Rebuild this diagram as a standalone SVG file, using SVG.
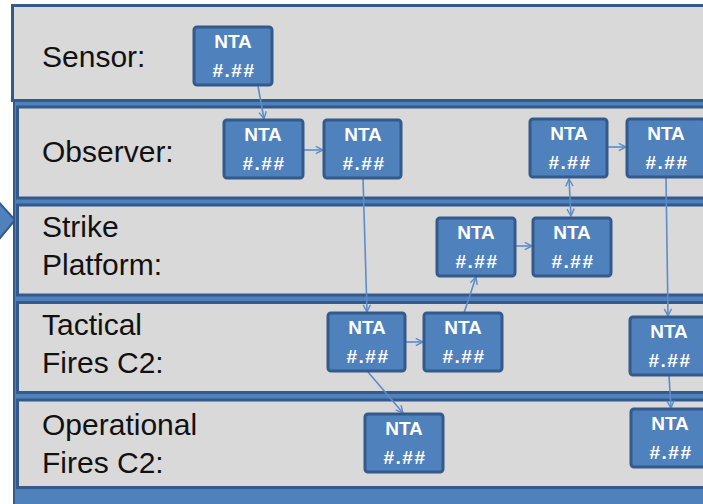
<svg xmlns="http://www.w3.org/2000/svg" width="703" height="504" viewBox="0 0 703 504">
<style>
.lane{fill:#d9d9d9;stroke:#345a8c;stroke-width:3}
.lbl{font-family:"Liberation Sans",Arial,sans-serif;font-size:30px;fill:#111}
.box{fill:#4f81bd;stroke:#345a8c;stroke-width:3}
.nt{font-family:"Liberation Sans",Arial,sans-serif;font-size:19px;font-weight:bold;fill:#fff;text-anchor:middle}
.nh{letter-spacing:1.5px}
.con{stroke:#5d8cc6;stroke-width:1.6;fill:none}
</style>
<defs>
<marker id="ah" viewBox="0 0 10 10" refX="9" refY="5" markerWidth="9" markerHeight="9" markerUnits="userSpaceOnUse" orient="auto-start-reverse">
<path d="M1,1 L9,5 L1,9" fill="none" stroke="#5d8cc6" stroke-width="1.6"/>
</marker>
</defs>
<rect x="0" y="0" width="703" height="504" fill="#ffffff"/>
<polygon points="-4,199 15,220 -4,243" fill="#4f81bd" stroke="#345a8c" stroke-width="2"/>
<g id="lanes">
<rect class="lane" x="12.5" y="5.5" width="710" height="95"/>
<rect x="14" y="101" width="710" height="410" fill="#4f81bd" stroke="#345a8c" stroke-width="2"/>
<rect class="lane" x="17.5" y="107" width="710" height="91"/>
<rect class="lane" x="17.5" y="205" width="710" height="90"/>
<rect class="lane" x="17.5" y="302.5" width="710" height="90"/>
<rect class="lane" x="17.5" y="400" width="710" height="87.5"/>
<text class="lbl" x="42" y="67">Sensor:</text>
<text class="lbl" x="42" y="162">Observer:</text>
<text class="lbl" x="42" y="237">Strike</text>
<text class="lbl" x="42" y="275">Platform:</text>
<text class="lbl" x="42" y="335">Tactical</text>
<text class="lbl" x="42" y="373">Fires C2:</text>
<text class="lbl" x="42" y="435">Operational</text>
<text class="lbl" x="42" y="473">Fires C2:</text>
</g>
<g id="connectors">
<line class="con" x1="258" y1="86" x2="264" y2="119" marker-end="url(#ah)"/>
<line class="con" x1="304" y1="150" x2="323" y2="150" marker-end="url(#ah)"/>
<line class="con" x1="363" y1="178" x2="367" y2="312" marker-end="url(#ah)"/>
<line class="con" x1="405" y1="342" x2="423" y2="342" marker-end="url(#ah)"/>
<line class="con" x1="464" y1="313" x2="476" y2="277" marker-end="url(#ah)"/>
<line class="con" x1="515" y1="246" x2="532" y2="246" marker-end="url(#ah)"/>
<line class="con" x1="569" y1="179" x2="571" y2="216" marker-start="url(#ah)" marker-end="url(#ah)"/>
<line class="con" x1="607" y1="147" x2="626" y2="147" marker-end="url(#ah)"/>
<line class="con" x1="666" y1="177" x2="668" y2="316" marker-end="url(#ah)"/>
<line class="con" x1="669" y1="376" x2="671" y2="408" marker-end="url(#ah)"/>
<line class="con" x1="368" y1="372" x2="403" y2="413" marker-end="url(#ah)"/>
</g>
<g id="n1"><rect class="box" x="194" y="27" width="78" height="58" rx="3"/><text class="nt" x="233" y="48">NTA</text><text class="nt nh" x="234" y="77">#.##</text></g>
<g id="n2"><rect class="box" x="224" y="120" width="79" height="58" rx="3"/><text class="nt" x="263" y="141">NTA</text><text class="nt nh" x="264" y="170">#.##</text></g>
<g id="n3"><rect class="box" x="324" y="120" width="77" height="58" rx="3"/><text class="nt" x="363" y="141">NTA</text><text class="nt nh" x="364" y="170">#.##</text></g>
<g id="n4"><rect class="box" x="530" y="119" width="77" height="58" rx="3"/><text class="nt" x="569" y="140">NTA</text><text class="nt nh" x="570" y="169">#.##</text></g>
<g id="n5"><rect class="box" x="627" y="119" width="78" height="58" rx="3"/><text class="nt" x="666" y="140">NTA</text><text class="nt nh" x="667" y="169">#.##</text></g>
<g id="n6"><rect class="box" x="437" y="218" width="78" height="58" rx="3"/><text class="nt" x="476" y="239">NTA</text><text class="nt nh" x="477" y="268">#.##</text></g>
<g id="n7"><rect class="box" x="533" y="218" width="78" height="58" rx="3"/><text class="nt" x="572" y="239">NTA</text><text class="nt nh" x="573" y="268">#.##</text></g>
<g id="n8"><rect class="box" x="328" y="313" width="77" height="58" rx="3"/><text class="nt" x="367" y="334">NTA</text><text class="nt nh" x="368" y="363">#.##</text></g>
<g id="n9"><rect class="box" x="424" y="313" width="78" height="58" rx="3"/><text class="nt" x="463" y="334">NTA</text><text class="nt nh" x="464" y="363">#.##</text></g>
<g id="n10"><rect class="box" x="630" y="317" width="78" height="58" rx="3"/><text class="nt" x="669" y="338">NTA</text><text class="nt nh" x="670" y="367">#.##</text></g>
<g id="n11"><rect class="box" x="365" y="414" width="78" height="58" rx="3"/><text class="nt" x="404" y="435">NTA</text><text class="nt nh" x="405" y="464">#.##</text></g>
<g id="n12"><rect class="box" x="631" y="409" width="78" height="58" rx="3"/><text class="nt" x="670" y="430">NTA</text><text class="nt nh" x="671" y="459">#.##</text></g>
</svg>
